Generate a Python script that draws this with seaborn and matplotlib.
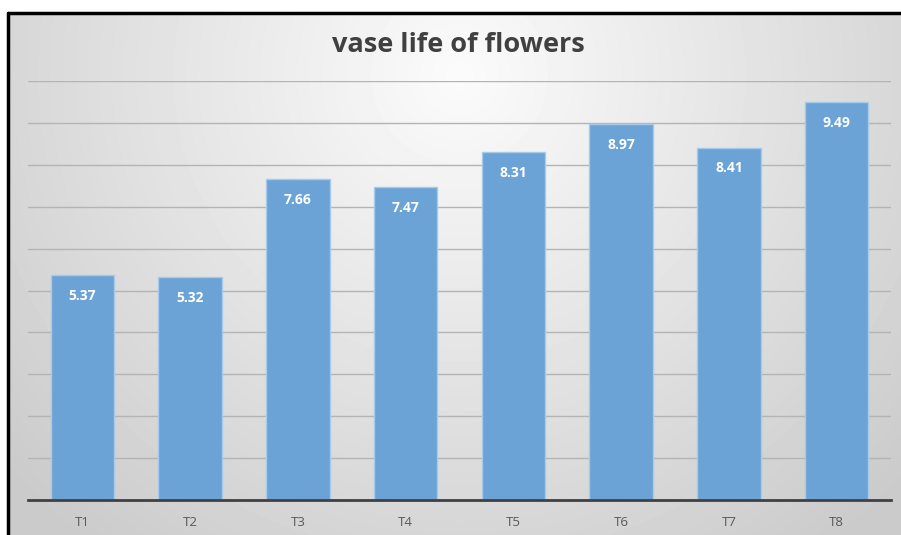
import numpy as np
import pandas as pd
import seaborn as sns
import matplotlib.pyplot as plt
from matplotlib.lines import Line2D

# treatments and vase life values
treatments = ['T1', 'T2', 'T3', 'T4', 'T5', 'T6', 'T7', 'T8']
vase_life = [5.37, 5.32, 7.66, 7.47, 8.31, 8.97, 8.41, 9.49]

df = pd.DataFrame({'treatment': treatments, 'vase_life': vase_life})

sns.set_style('white')
plt.rcParams['font.family'] = ['Open Sans', 'DejaVu Sans']

fig = plt.figure(figsize=(9.01, 5.35), dpi=100)

# radial grey background like the excel chart area
bg = fig.add_axes([9 / 901, 0, 1 - 9 / 901, 1 - 15 / 535], zorder=0)
h, w = 520, 892
yy, xx = np.mgrid[0:h, 0:w]
r = np.sqrt(((xx - 450) / 600.0) ** 2 + ((yy - 60) / 600.0) ** 2)
shade = 0.985 - 0.19 * np.clip(r, 0, 1)
bg.imshow(shade, cmap='gray', vmin=0, vmax=1, aspect='auto')
bg.axis('off')

# black border top and left
fig.add_artist(Line2D([8 / 901, 8 / 901], [0, 1 - 13 / 535], color='black', lw=2.5, transform=fig.transFigure))
fig.add_artist(Line2D([8 / 901, 1], [1 - 13 / 535, 1 - 13 / 535], color='black', lw=2.5, transform=fig.transFigure))

ax = fig.add_axes([28.5 / 901, 1 - 500 / 535, 862 / 901, 419 / 535], zorder=1)
ax.patch.set_alpha(0)

sns.barplot(data=df, x='treatment', y='vase_life', color='#6BA3D6', saturation=1,
            width=0.59, edgecolor='#a8caea', linewidth=1, ax=ax, zorder=3)

ax.set_ylim(0, 10)
ax.set_yticks(range(0, 11))
ax.yaxis.grid(True, color='#b4b4b4', linewidth=1, zorder=0)
ax.set_axisbelow(True)
ax.tick_params(axis='y', left=False, labelleft=False)
ax.tick_params(axis='x', bottom=False, labelsize=9.5, labelcolor='#595959', pad=8)
ax.set_xlabel('')
ax.set_ylabel('')
for side in ['top', 'right', 'left']:
    ax.spines[side].set_visible(False)
ax.spines['bottom'].set_color('#404040')
ax.spines['bottom'].set_linewidth(2)
ax.spines['bottom'].set_zorder(5)

# value labels inside the bar tops
for i, v in enumerate(vase_life):
    ax.annotate(f'{v:.2f}', (i, v), xytext=(0, -15), textcoords='offset points',
                ha='center', va='center', color='white', fontsize=10, fontweight='bold', zorder=6)

fig.text(458 / 901, 1 - 45 / 535, 'vase life of flowers', ha='center', va='center',
         fontsize=19.5, fontweight='bold', color='#404040')

plt.savefig('out.png', dpi=100)
